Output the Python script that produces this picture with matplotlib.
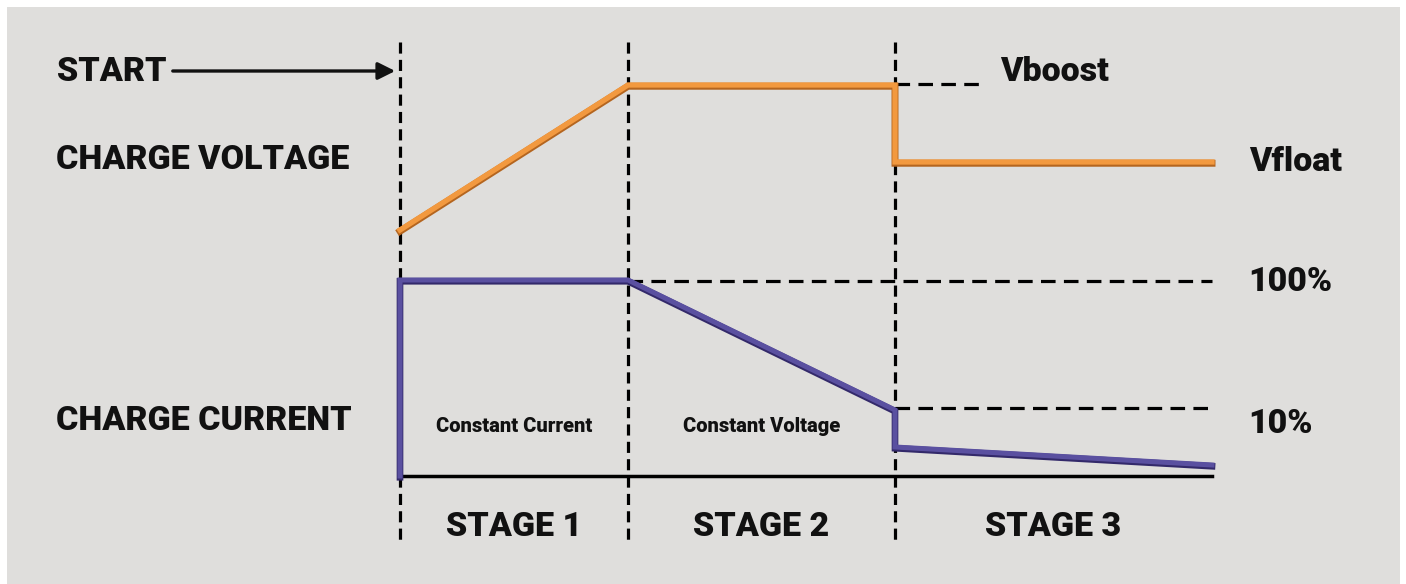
import matplotlib
matplotlib.use('Agg')
import matplotlib.pyplot as plt
import matplotlib.patheffects as pe

plt.rcParams['font.family'] = ['Roboto', 'DejaVu Sans']
plt.rcParams['lines.scale_dashes'] = False

# schematic values (x = time axis, y = level, downwards)
stage_x = [400, 628, 895]          # start of each stage
end_x = 1212                       # end of the time axis
base_y = 476                       # zero current line

voltage_x = [400, 628, 895, 895, 1212]
voltage_y = [230, 85, 85, 162, 162]

current_x = [400, 400, 628, 895, 895, 1212]
current_y = [476, 280, 280, 410, 447, 465]

vboost_y = 84
pct100_y = 281
pct10_y = 408

stage_labels = ['STAGE 1', 'STAGE 2', 'STAGE 3']
mode_labels = ['Constant Current', 'Constant Voltage']

W, H = 1406, 584
fig = plt.figure(figsize=(W / 100, H / 100), dpi=100, facecolor='white')
ax = fig.add_axes([7 / W, 0, (1400 - 7) / W, (H - 7) / H])
ax.set_facecolor('#dfdedc')
ax.set_xlim(7, 1400)
ax.set_ylim(H, 7)
ax.axis('off')
ax.add_patch(plt.Rectangle((7, 7), 1393, 577, color='#dfdedc', zorder=0))

dash_v = (0, (8, 4.5))
dash_h = (0, (10.5, 6))

# stage separators
for x in stage_x:
    ax.plot([x, x], [42, 540], color='black', lw=2.3, linestyle=dash_v, zorder=2)

# reference levels
ax.plot([stage_x[2], 980], [vboost_y, vboost_y], color='black', lw=2.3, linestyle=dash_h, zorder=2)
ax.plot([stage_x[1], end_x], [pct100_y, pct100_y], color='black', lw=2.3, linestyle=dash_h, zorder=2)
ax.plot([stage_x[2], end_x], [pct10_y, pct10_y], color='black', lw=2.3, linestyle=dash_h, zorder=2)

# time axis
ax.plot([stage_x[0], end_x], [base_y, base_y], color='black', lw=2.5, zorder=3)

# charge voltage and current
ax.plot(voltage_x, voltage_y, color='#f2993f', lw=3.8, solid_joinstyle='miter', zorder=4,
        path_effects=[pe.Stroke(linewidth=5.0, foreground='#b4651f', offset=(0, -0.9)), pe.Normal()])
ax.plot(current_x, current_y, color='#5a50a0', lw=3.6, solid_joinstyle='miter', zorder=4,
        path_effects=[pe.Stroke(linewidth=4.8, foreground='#33296a', offset=(0, -0.9)), pe.Normal()])

big = dict(fontsize=24.5, fontweight='heavy', color='#111111', va='center')

ax.text(57, 72, 'START', ha='left', **big)
ax.annotate('', xy=(398, 71), xytext=(170, 71),
            arrowprops=dict(arrowstyle='-|>', color='#111111', lw=2.4, mutation_scale=26))
ax.text(56, 160, 'CHARGE VOLTAGE', ha='left', **big)
ax.text(56, 421, 'CHARGE CURRENT', ha='left', **big)

ax.text(1000, 72, 'Vboost', ha='left', **big)
ax.text(1249, 162, 'Vfloat', ha='left', **big)
ax.text(1248, 282, '100%', ha='left', **big)
ax.text(1248, 424, '10%', ha='left', **big)

bounds = stage_x + [end_x]
for i, lab in enumerate(stage_labels):
    ax.text((bounds[i] + bounds[i + 1]) / 2, 527, lab, ha='center', **big)

for i, lab in enumerate(mode_labels):
    ax.text((bounds[i] + bounds[i + 1]) / 2, 426, lab, ha='center', va='center',
            fontsize=14.5, fontweight='heavy', color='#111111')

fig.savefig('out.png', dpi=100, facecolor='white')
